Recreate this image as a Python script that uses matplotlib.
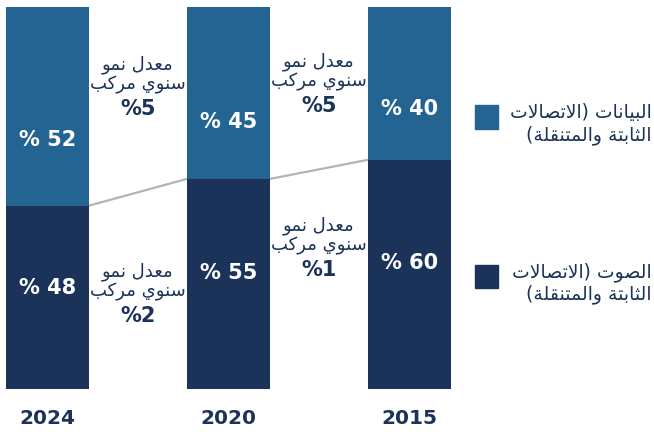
import matplotlib
matplotlib.use('Agg')
import matplotlib.pyplot as plt
from matplotlib.patches import Rectangle

# data
years = ['2024', '2020', '2015']
voice = [48, 55, 60]          # الصوت
data = [52, 45, 40]           # البيانات
cagr_data = ['%5', '%5']      # between neighbouring bars
cagr_voice = ['%2', '%1']
legend_labels = ['البيانات (الاتصالات\nالثابتة والمتنقلة)',
                 'الصوت (الاتصالات\nالثابتة والمتنقلة)']
cagr_lines = ['معدل نمو', 'سنوي مركب']

BLUE = '#236492'
NAVY = '#1b3358'
GREY = '#b4b4b4'

# --- tiny arabic shaper (matplotlib has no bidi / shaping) ---
FORMS = {
    'ا': ('\uFE8D', '\uFE8E', None, None),
    'ب': ('\uFE8F', '\uFE90', '\uFE91', '\uFE92'),
    'ة': ('\uFE93', '\uFE94', None, None),
    'ت': ('\uFE95', '\uFE96', '\uFE97', '\uFE98'),
    'ث': ('\uFE99', '\uFE9A', '\uFE9B', '\uFE9C'),
    'د': ('\uFEA9', '\uFEAA', None, None),
    'ر': ('\uFEAD', '\uFEAE', None, None),
    'س': ('\uFEB1', '\uFEB2', '\uFEB3', '\uFEB4'),
    'ص': ('\uFEB9', '\uFEBA', '\uFEBB', '\uFEBC'),
    'ع': ('\uFEC9', '\uFECA', '\uFECB', '\uFECC'),
    'ق': ('\uFED5', '\uFED6', '\uFED7', '\uFED8'),
    'ك': ('\uFED9', '\uFEDA', '\uFEDB', '\uFEDC'),
    'ل': ('\uFEDD', '\uFEDE', '\uFEDF', '\uFEE0'),
    'م': ('\uFEE1', '\uFEE2', '\uFEE3', '\uFEE4'),
    'ن': ('\uFEE5', '\uFEE6', '\uFEE7', '\uFEE8'),
    'و': ('\uFEED', '\uFEEE', None, None),
    'ي': ('\uFEF1', '\uFEF2', '\uFEF3', '\uFEF4'),
}
MIRROR = {'(': ')', ')': '('}


def dual(c):
    return c in FORMS and FORMS[c][2] is not None


def shape_line(s):
    out = []
    i = 0
    while i < len(s):
        c = s[i]
        if c not in FORMS:
            out.append(MIRROR.get(c, c))
            i += 1
            continue
        jp = i > 0 and dual(s[i - 1])
        if c == 'ل' and i + 1 < len(s) and s[i + 1] == 'ا':
            out.append('\uFEFC' if jp else '\uFEFB')
            i += 2
            continue
        jn = dual(c) and i + 1 < len(s) and s[i + 1] in FORMS
        iso, fin, ini, med = FORMS[c]
        if jp and jn:
            out.append(med)
        elif jp:
            out.append(fin)
        elif jn:
            out.append(ini)
        else:
            out.append(iso)
        i += 1
    return ''.join(reversed(out))


def ar(s):
    return '\n'.join(shape_line(l) for l in s.split('\n'))


plt.rcParams['font.family'] = ['DejaVu Sans']

fig = plt.figure(figsize=(6.54, 4.34), dpi=100)
ax = fig.add_axes([0, 0, 1, 1])
ax.set_xlim(-0.2624, 3.351)
ax.set_ylim(-11.78, 101.83)
ax.axis('off')

w = 0.4586
x = list(range(len(years)))
ax.bar(x, voice, width=w, color=NAVY, zorder=2)
ax.bar(x, data, width=w, bottom=voice, color=BLUE, zorder=2)

# connecting lines at the voice/data boundary
for i in range(len(x) - 1):
    ax.plot([x[i] + w / 2, x[i + 1] - w / 2], [voice[i], voice[i + 1]],
            color=GREY, lw=1.6, zorder=1)

for i in x:
    ax.text(i, voice[i] * 0.55, '% ' + str(voice[i]), color='white',
            fontsize=15, fontweight='bold', ha='center', va='center')
    ax.text(i, voice[i] + data[i] * 0.33, '% ' + str(data[i]), color='white',
            fontsize=15, fontweight='bold', ha='center', va='center')
    ax.text(i, -7.6, years[i], color=NAVY, fontsize=14.5, fontweight='bold',
            ha='center', va='center')

# CAGR notes between bars
top_y = [84.8, 85.6]
bot_y = [30.6, 42.7]
for i in range(len(x) - 1):
    mx = (x[i] + x[i + 1]) / 2
    for y0, pct in ((top_y[i], cagr_data[i]), (bot_y[i], cagr_voice[i])):
        for k, line in enumerate(cagr_lines):
            ax.annotate(ar(line), (mx, y0), xytext=(0, -20 * k),
                        textcoords='offset pixels', color=NAVY, fontsize=13,
                        ha='center', va='center')
        ax.annotate(pct, (mx, y0), xytext=(0, -44), textcoords='offset pixels',
                    color=NAVY, fontsize=15, fontweight='bold',
                    ha='center', va='center')

# legend
colors = [BLUE, NAVY]
sq_y = [117, 276]
for lab, col, yp in zip(legend_labels, colors, sq_y):
    fy = 1 - yp / 434
    fig.add_artist(Rectangle((475 / 654, fy - 11.5 / 434), 23 / 654, 23 / 434,
                             transform=fig.transFigure, color=col))
    fig.text(652 / 654, fy - 7 / 434, ar(lab), color=NAVY, fontsize=13.5,
             ha='right', va='center', multialignment='right', linespacing=1.2)

fig.savefig('out.png', dpi=100)
